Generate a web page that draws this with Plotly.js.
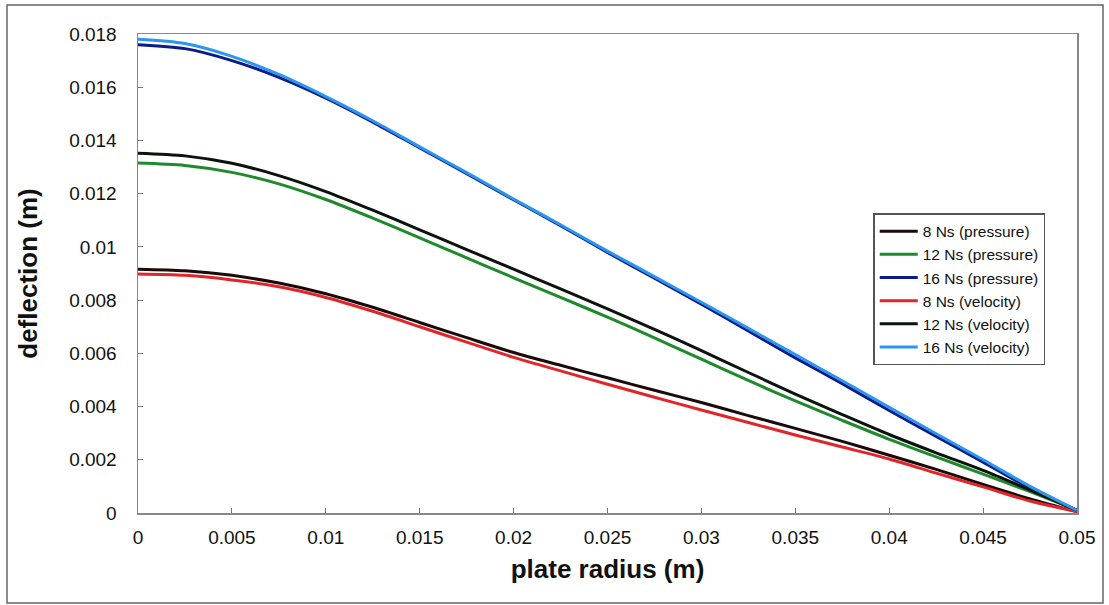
<!DOCTYPE html>
<html>
<head>
<meta charset="utf-8">
<script src="https://cdn.plot.ly/plotly-3.0.1.min.js"></script>
<style>html,body{margin:0;padding:0;background:#fff;}#chart{width:1109px;height:605px;}</style>
</head>
<body>
<div id="chart"></div>
<script>
// plate radius (m)
const radius = [0, 0.0025, 0.005, 0.0075, 0.01, 0.0125, 0.015, 0.0175, 0.02, 0.0225, 0.025,
                0.0275, 0.03, 0.0325, 0.035, 0.0375, 0.04, 0.0425, 0.045, 0.0475, 0.05];

// deflection (m)
const p8  = [0.00916, 0.00910, 0.00893, 0.00864, 0.00824, 0.00773, 0.00716, 0.00659, 0.00603, 0.00555, 0.00508,
             0.00461, 0.00415, 0.00366, 0.00318, 0.00269, 0.00217, 0.00164, 0.00107, 0.00053, 0.00005];
const p12 = [0.01315, 0.01306, 0.01280, 0.01237, 0.01178, 0.01108, 0.01034, 0.00959, 0.00884, 0.00810, 0.00736,
             0.00658, 0.00578, 0.00498, 0.00421, 0.00348, 0.00277, 0.00211, 0.00146, 0.00080, 0.00010];
const p16 = [0.01760, 0.01745, 0.01700, 0.01637, 0.01559, 0.01469, 0.01372, 0.01275, 0.01177, 0.01080, 0.00979,
             0.00882, 0.00785, 0.00684, 0.00583, 0.00486, 0.00385, 0.00288, 0.00191, 0.00093, 0.00010];
const v8  = [0.00898, 0.00893, 0.00876, 0.00850, 0.00810, 0.00758, 0.00700, 0.00642, 0.00585, 0.00534, 0.00484,
             0.00435, 0.00387, 0.00340, 0.00293, 0.00248, 0.00203, 0.00150, 0.00098, 0.00045, 0.00005];
const v12 = [0.01352, 0.01342, 0.01314, 0.01268, 0.01208, 0.01138, 0.01064, 0.00990, 0.00916, 0.00842, 0.00767,
             0.00690, 0.00610, 0.00528, 0.00447, 0.00370, 0.00295, 0.00226, 0.00160, 0.00086, 0.00010];
const v16 = [0.01780, 0.01764, 0.01716, 0.01648, 0.01565, 0.01474, 0.01376, 0.01279, 0.01180, 0.01083, 0.00984,
             0.00888, 0.00792, 0.00694, 0.00595, 0.00497, 0.00397, 0.00298, 0.00200, 0.00100, 0.00010];

const seriesNames = ['8 Ns (pressure)', '12 Ns (pressure)', '16 Ns (pressure)',
                     '8 Ns (velocity)', '12 Ns (velocity)', '16 Ns (velocity)'];
const seriesData = [p8, p12, p16, v8, v12, v16];
const seriesColors = ['#1c0a0a', '#1f8a2c', '#0d1b8a', '#e0262b', '#0a140c', '#2a96ee'];

const xTicks = [0, 0.005, 0.01, 0.015, 0.02, 0.025, 0.03, 0.035, 0.04, 0.045, 0.05];
const xTickText = ['0', '0.005', '0.01', '0.015', '0.02', '0.025', '0.03', '0.035', '0.04', '0.045', '0.05'];
const yTicks = [0, 0.002, 0.004, 0.006, 0.008, 0.01, 0.012, 0.014, 0.016, 0.018];
const yTickText = ['0', '0.002', '0.004', '0.006', '0.008', '0.01', '0.012', '0.014', '0.016', '0.018'];

const traces = seriesNames.map((n, i) => ({
  x: radius, y: seriesData[i], name: n, type: 'scatter', mode: 'lines',
  line: {color: seriesColors[i], width: 3, shape: 'spline', smoothing: 0.8},
  legendgroup: 'g' + i
}));

const font = 'Arial, "Liberation Sans", sans-serif';
const layout = {
  width: 1109, height: 605,
  margin: {l: 138, r: 32, t: 34, b: 92},
  paper_bgcolor: '#fff', plot_bgcolor: '#fff',
  font: {family: font, color: '#111'},
  showlegend: true,
  legend: {
    x: 0.783, y: 0.626, xanchor: 'left', yanchor: 'top',
    bgcolor: '#fff', bordercolor: '#555', borderwidth: 1.5,
    font: {family: font, size: 15.5, color: '#111'},
    traceorder: 'grouped', tracegroupgap: 0, itemwidth: 38
  },
  xaxis: {
    range: [0, 0.05], tickvals: xTicks, ticktext: xTickText,
    ticks: 'inside', ticklen: 5, tickcolor: '#777',
    showline: true, linecolor: '#888', linewidth: 1.5, mirror: true,
    showgrid: false, zeroline: false,
    tickfont: {family: font, size: 19, color: '#111'},
    ticklabelstandoff: 7,
    title: {text: '<b>plate radius (m)</b>', font: {family: font, size: 26, color: '#111'}, standoff: 12}
  },
  yaxis: {
    range: [0, 0.018], tickvals: yTicks, ticktext: yTickText,
    ticks: 'inside', ticklen: 5, tickcolor: '#777',
    showline: true, linecolor: '#888', linewidth: 1.5, mirror: true,
    showgrid: false, zeroline: false,
    tickfont: {family: font, size: 19, color: '#111'},
    ticklabelstandoff: 16,
    title: {text: '<b>deflection (m)</b>', font: {family: font, size: 26, color: '#111'}, standoff: 24}
  },
  shapes: [{
    type: 'rect', xref: 'paper', yref: 'paper',
    x0: -0.1395, x1: 1.0277, y0: -0.188, y1: 1.0605,
    line: {color: '#666', width: 1.5}
  }]
};

Plotly.newPlot('chart', traces, layout, {displayModeBar: false, staticPlot: true});
</script>
</body>
</html>
